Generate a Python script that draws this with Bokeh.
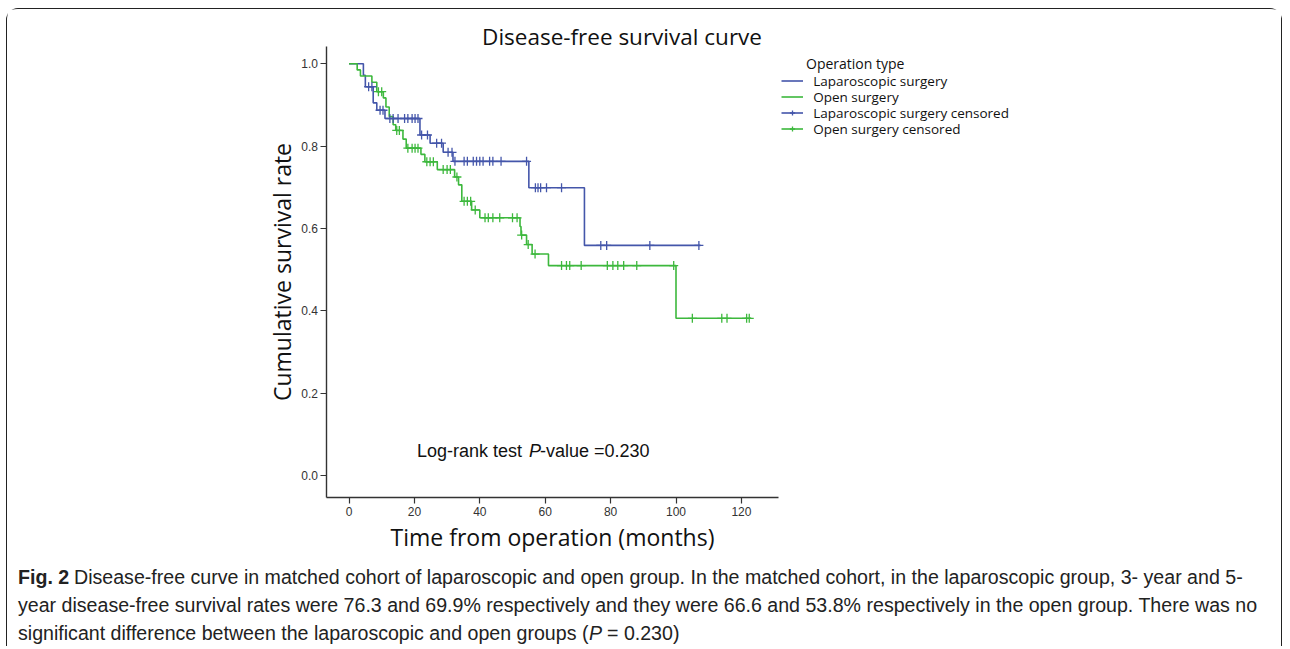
import numpy as np
from bokeh.plotting import figure
from bokeh.models import (Range1d, Label, Legend, LegendItem, FixedTicker,
                          PrintfTickFormatter)
from bokeh.embed import file_html
from bokeh.resources import INLINE

# ---------------- data ----------------
title_text = "Disease-free survival curve"
x_label = "Time from operation (months)"
y_label = "Cumulative survival rate"
x_ticks = [0, 20, 40, 60, 80, 100, 120]
y_ticks = [0.0, 0.2, 0.4, 0.6, 0.8, 1.0]
legend_title = "Operation type"
series_names = ["Laparoscopic surgery", "Open surgery",
                "Laparoscopic surgery censored", "Open surgery censored"]

# Kaplan-Meier steps: survival value holds from each time until the next
lap_time = [0, 4.4, 5.0, 7.4, 8.5, 11.0, 21.7, 24.8, 28.8, 31.8, 55.0, 72.0, 107.5]
lap_surv = [1.0, 0.972, 0.944, 0.905, 0.887, 0.867, 0.827, 0.807, 0.785, 0.763,
            0.699, 0.559, 0.559]
lap_cens_time = [6.0, 7.0, 9.5, 10.4, 12.5, 13.5, 15.0, 17.0, 18.0, 19.3, 20.2, 21.1,
                 22.2, 24.0, 26.8, 28.3, 30.3, 31.5, 32.4, 35.2, 36.2, 38.0, 39.0,
                 40.0, 41.0, 43.0, 44.0, 46.5, 54.3, 57.0, 57.8, 58.6, 60.4, 65.0,
                 77.0, 78.8, 92.0, 107.0]

open_time = [0, 2.5, 3.5, 7.0, 8.5, 10.5, 11.3, 12.3, 13.5, 14.3, 16.5, 17.5, 22.0,
             23.2, 27.0, 32.3, 33.5, 34.5, 37.5, 40.0, 52.3, 52.6, 54.3, 56.0, 61.0,
             100.0, 123.0]
open_surv = [1.0, 0.985, 0.97, 0.955, 0.932, 0.917, 0.895, 0.872, 0.852, 0.838,
             0.817, 0.795, 0.780, 0.762, 0.743, 0.725, 0.706, 0.666, 0.645, 0.626,
             0.605, 0.584, 0.561, 0.538, 0.510, 0.382, 0.382]
open_cens_time = [9.0, 10.0, 14.6, 15.4, 18.0, 19.3, 20.2, 21.1, 23.8, 24.8, 25.8,
                  28.8, 30.0, 31.0, 33.0, 35.2, 36.2, 37.2, 38.6, 41.6, 42.6, 44.0,
                  46.1, 50.0, 51.4, 52.8, 54.8, 56.9, 65.0, 66.5, 67.5, 71.0, 79.0,
                  80.7, 82.2, 84.0, 88.0, 99.3, 105.0, 114.0, 115.6, 121.6, 122.4]

logrank_parts = ["Log-rank test ", "P", "-value =0.230"]
caption_bold = "Fig. 2"
caption_line1 = ("Disease-free curve in matched cohort of laparoscopic and open group. "
                 "In the matched cohort, in the laparoscopic group, 3- year and 5-")
caption_line2 = ("year disease-free survival rates were 76.3 and 69.9% respectively and "
                 "they were 66.6 and 53.8% respectively in the open group. There was no")
caption_line3a = "significant difference between the laparoscopic and open groups ("
caption_line3b = "P"
caption_line3c = "= 0.230)"


def surv_at(times, survs, ts):
    idx = np.searchsorted(np.array(times), np.array(ts), side="right") - 1
    return [survs[i] for i in idx]


lap_cens_surv = surv_at(lap_time, lap_surv, lap_cens_time)
open_cens_surv = surv_at(open_time, open_surv, open_cens_time)

# ---------------- layout ----------------
BLUE = "#4456AA"
GREEN = "#3DB83D"
OX, OY = 7.5, 9.5          # page position of the canvas (after margin + border)
W, H = 1276, 638
PX0, PXS = 349.0, 3.27     # page x of t=0, pixels per month
PY0, PYS = 475.7, 412.0    # page y of S=0, pixels per unit survival
X0 = -(PX0 - OX) / PXS
X1 = X0 + W / PXS
Y1 = (PY0 - OY) / PYS
Y0 = Y1 - H / PYS


def dx(px):
    return X0 + (px - OX) / PXS


def dy(py):
    return Y1 - (py - OY) / PYS


AX_L, AX_R, AX_T, AX_B = 326, 778, 46, 497   # axes box in page pixels

p = figure(width=W, height=H, x_range=Range1d(X0, X1), y_range=Range1d(Y0, Y1),
           output_backend="svg", toolbar_location=None,
           min_border_left=0, min_border_top=0, min_border_right=0, min_border_bottom=0)
p.outline_line_color = None
p.xgrid.grid_line_color = None
p.ygrid.grid_line_color = None
p.background_fill_color = "white"
p.border_fill_color = "white"
p.styles = {"border": "1.5px solid #222", "border-bottom": "none",
            "border-radius": "12px 12px 0 0", "margin-left": "6px", "margin-top": "8px"}

r_lap = p.step(lap_time, lap_surv, mode="after", line_color=BLUE, line_width=1.6)
r_open = p.step(open_time, open_surv, mode="after", line_color=GREEN, line_width=1.6)
r_lapc = p.scatter(lap_cens_time, lap_cens_surv, marker="cross", size=9,
                   line_color=BLUE, line_width=1.3)
r_openc = p.scatter(open_cens_time, open_cens_surv, marker="cross", size=9,
                    line_color=GREEN, line_width=1.3)

p.xaxis.ticker = FixedTicker(ticks=x_ticks)
p.yaxis.ticker = FixedTicker(ticks=y_ticks)
p.yaxis.formatter = PrintfTickFormatter(format="%.1f")
p.xaxis.axis_label = x_label
p.yaxis.axis_label = y_label
p.xaxis.fixed_location = dy(AX_B)
p.yaxis.fixed_location = dx(AX_L)
p.xaxis.bounds = (dx(AX_L), dx(AX_R))
p.yaxis.bounds = (dy(AX_B), dy(AX_T))
for ax in p.axis:
    ax.axis_line_color = "#333333"
    ax.axis_line_width = 1.4
    ax.major_tick_line_color = "#333333"
    ax.major_tick_line_width = 1.2
    ax.major_tick_out = 6
    ax.major_tick_in = 0
    ax.minor_tick_out = 0
    ax.minor_tick_in = 0
    ax.major_label_text_font = "Liberation Sans"
    ax.major_label_text_font_size = "12px"
    ax.major_label_text_color = "#333333"
    ax.axis_label_text_font = "Open Sans"
    ax.axis_label_text_font_size = "23px"
    ax.axis_label_text_font_style = "normal"
    ax.axis_label_text_color = "#111111"
p.xaxis.major_label_standoff = 4
p.yaxis.major_label_standoff = 2
p.xaxis.axis_label_standoff = 1
p.yaxis.axis_label_standoff = 1

# title
p.add_layout(Label(x=dx(622), y=dy(36), text=title_text, text_align="center",
                   text_baseline="middle", text_font="Open Sans",
                   text_font_size="22.5px", text_color="#111111"))

# log-rank annotation
lr_font = dict(text_font="Liberation Sans", text_font_size="18px",
               text_color="#111111", text_baseline="middle")
p.add_layout(Label(x=dx(417), y=dy(451), text=logrank_parts[0], **lr_font))
p.add_layout(Label(x=dx(529), y=dy(451), text=logrank_parts[1],
                   text_font_style="italic", **lr_font))
p.add_layout(Label(x=dx(540), y=dy(451), text=logrank_parts[2], **lr_font))

# legend: title plus one single-row legend per entry (rows placed like the reference)
p.add_layout(Label(x=dx(806), y=dy(63), text=legend_title, text_baseline="middle",
                   text_font="Open Sans", text_font_size="14px", text_color="#111111"))
legend_rows = [
    (series_names[0], [r_lap], 80.6),
    (series_names[1], [r_open], 96.6),
    (series_names[2], [r_lap, r_lapc], 112.6),
    (series_names[3], [r_open, r_openc], 128.6),
]
ROW_H = 19.0
for name, rends, cy in legend_rows:
    lg = Legend(items=[LegendItem(label=name, renderers=rends)],
                location=(781.7 - OX, (OY + H) - (cy + ROW_H / 2)),
                orientation="vertical", padding=0, margin=0, spacing=0,
                glyph_width=22, glyph_height=13, label_height=13, label_standoff=10,
                label_text_font="Open Sans", label_text_font_size="13.5px",
                label_text_color="#111111", border_line_color=None,
                background_fill_alpha=0)
    p.add_layout(lg)

# caption
cap_font = dict(text_font="Liberation Sans", text_font_size="19.6px",
                text_color="#222222", text_baseline="middle")
p.add_layout(Label(x=dx(18), y=dy(577), text=caption_bold, text_font_style="bold",
                   **cap_font))
p.add_layout(Label(x=dx(74), y=dy(577), text=caption_line1, **cap_font))
p.add_layout(Label(x=dx(18), y=dy(605), text=caption_line2, **cap_font))
p.add_layout(Label(x=dx(18), y=dy(633), text=caption_line3a, **cap_font))
p.add_layout(Label(x=dx(589), y=dy(633), text=caption_line3b, text_font_style="italic",
                   **cap_font))
p.add_layout(Label(x=dx(607), y=dy(633), text=caption_line3c, **cap_font))

open("out.html", "w").write(file_html(p, INLINE))
